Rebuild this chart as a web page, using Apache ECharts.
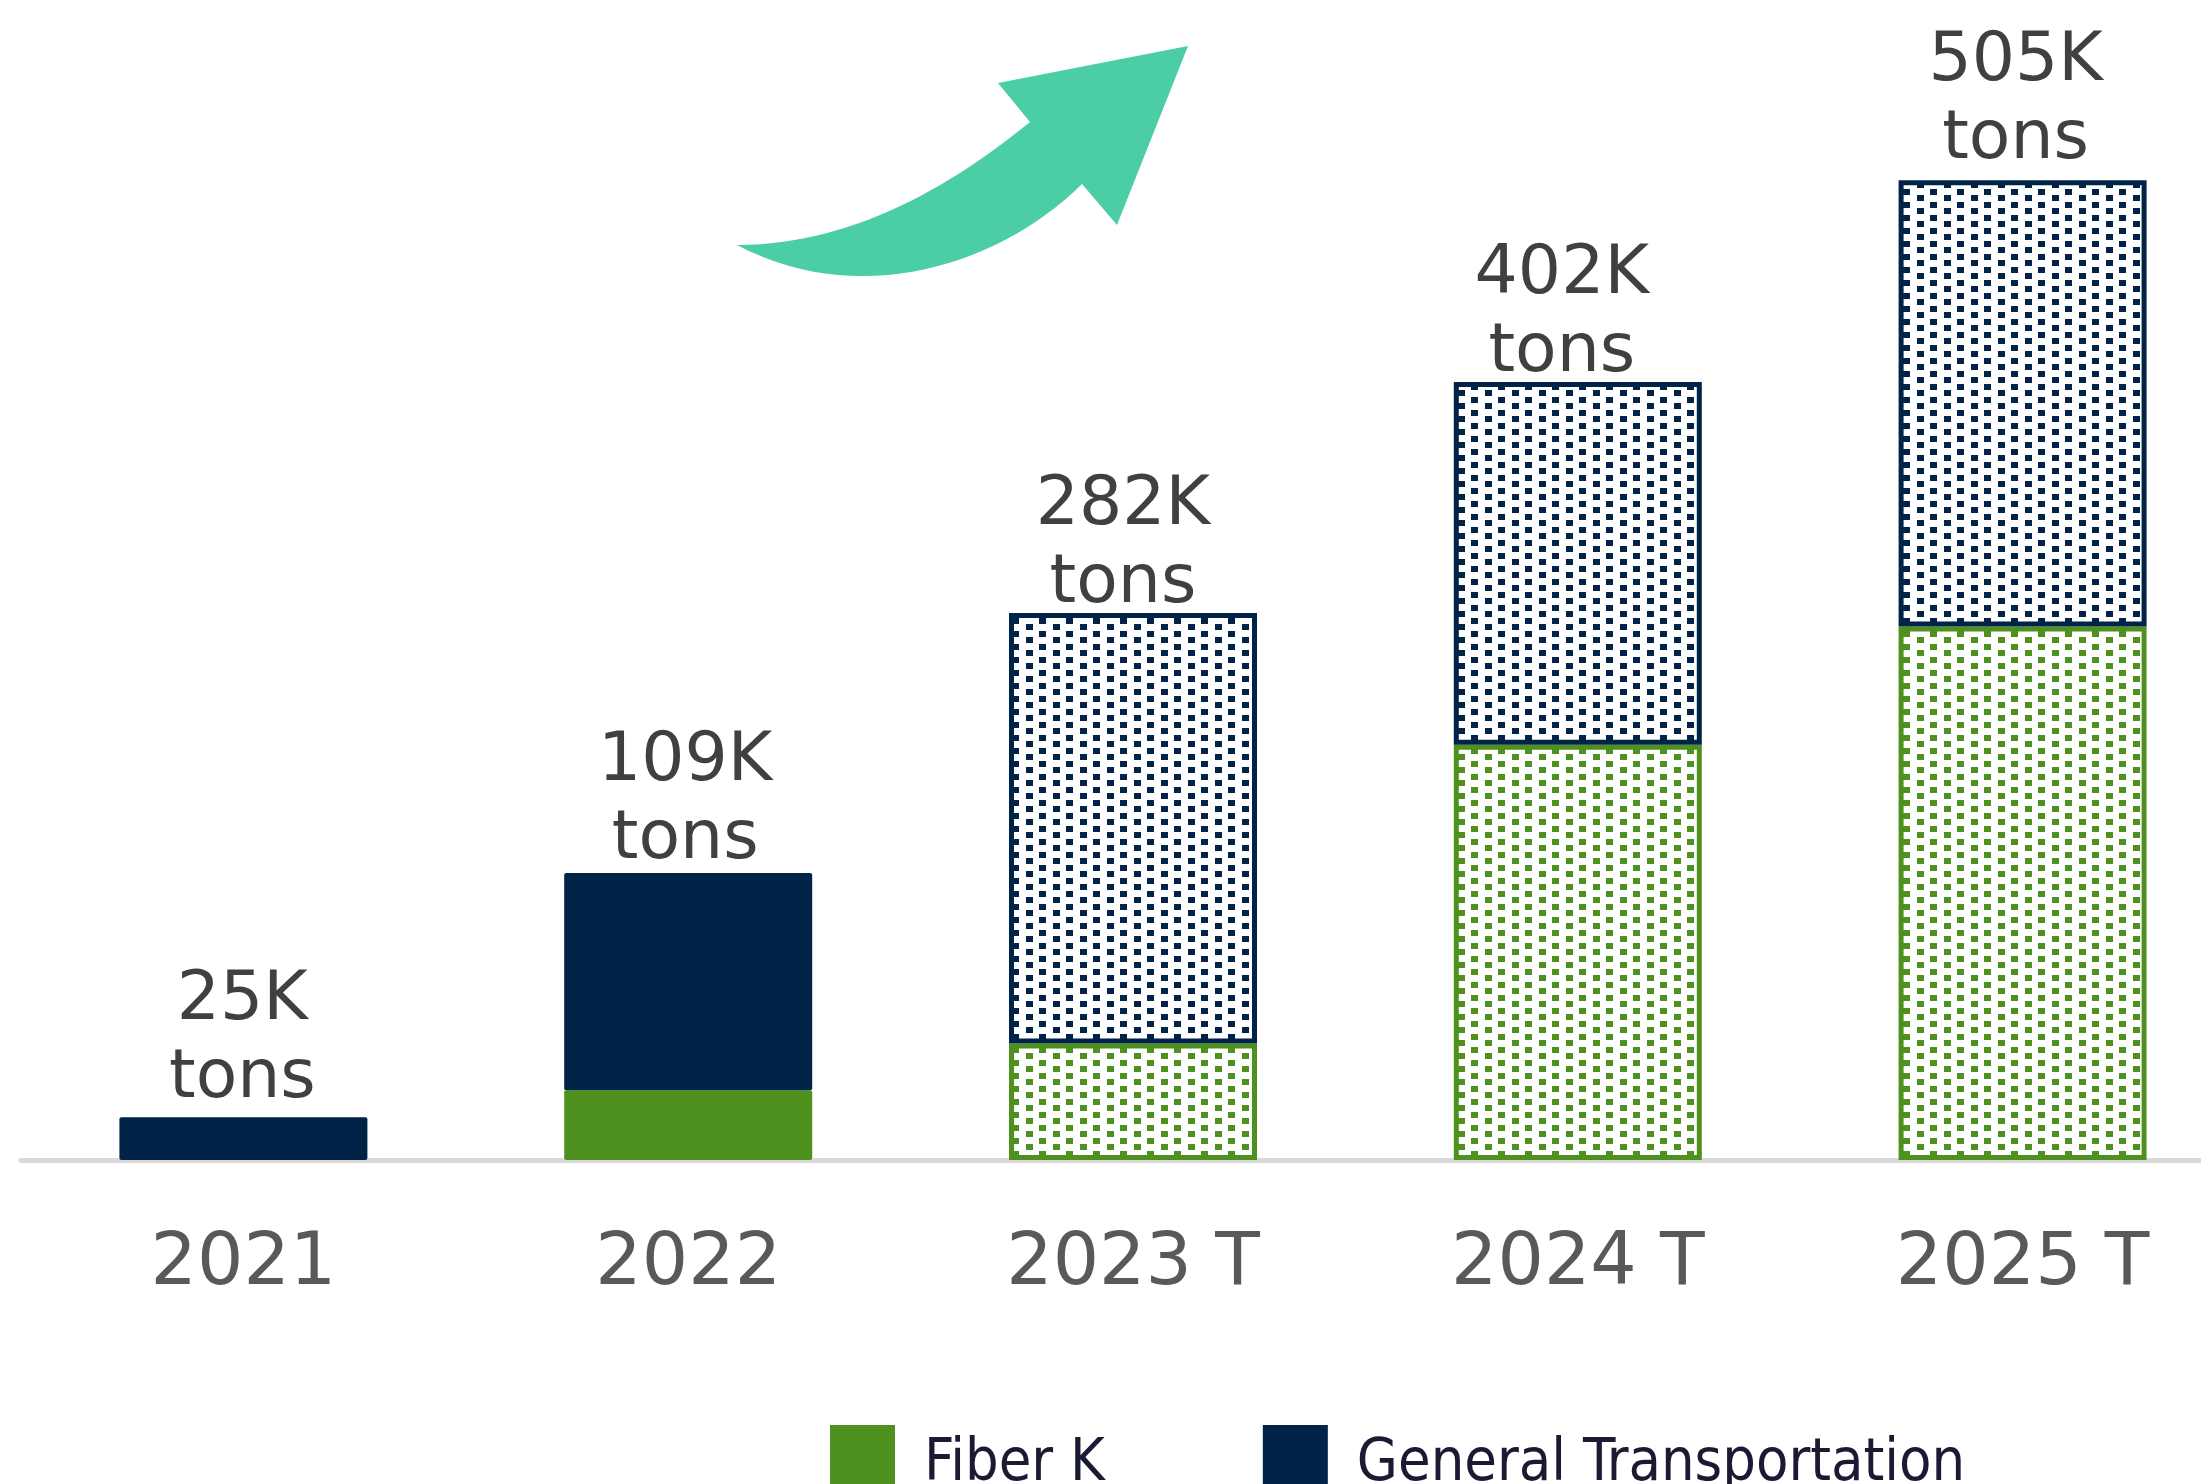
<!DOCTYPE html>
<html>
<head>
<meta charset="utf-8">
<script src="https://cdn.jsdelivr.net/npm/echarts@6/dist/echarts.min.js"></script>
<style>
html,body{margin:0;padding:0;background:#fff;}
#chart{width:2201px;height:1484px;}
</style>
</head>
<body>
<div id="chart"></div>
<script>
// ---- data ----
const categories = ['2021', '2022', '2023 T', '2024 T', '2025 T'];
const fiberK = [0, 36, 60, 214, 275];
const generalTransportation = [22, 112, 222, 187, 230];
const totalLabels = ['25K', '109K', '282K', '402K', '505K'];
const unitLabel = 'tons';

// ---- style ----
const NAVY = '#002347';
const GREEN = '#4e911e';
const ARROW = '#4bcea5';
// label nudges (px) reproducing the hand placement in the original
const labelNudgeX = [-1, -3, -10, -16, -7];
const labelNudgeY = [2, 7, 11, 11, 0];

function makePattern(color) {
  const c = document.createElement('canvas');
  c.width = 27; c.height = 13;
  const ctx = c.getContext('2d');
  ctx.fillStyle = '#ffffff';
  ctx.fillRect(0, 0, 27, 13);
  ctx.fillStyle = color;
  ctx.fillRect(0, 0, 7, 6);
  ctx.fillRect(13, 7, 7, 6);
  return { image: c, repeat: 'repeat' };
}
const navyPattern = makePattern(NAVY);
const greenPattern = makePattern(GREEN);
const isForecast = categories.map(c => / T$/.test(c));

function buildData(values, color, pattern, withLabelNudge) {
  return values.map((v, i) => {
    const item = isForecast[i]
      ? { value: v, itemStyle: { color: pattern, borderColor: color, borderWidth: 5, borderRadius: 0 } }
      : { value: v, itemStyle: { color: color, borderRadius: 2 } };
    if (withLabelNudge) item.label = { offset: [labelNudgeX[i], labelNudgeY[i]] };
    return item;
  });
}

// decorative arrow outline (quadratic + cubic curves sampled to a polygon)
function quad(p0, c, p1, n) {
  const pts = [];
  for (let i = 0; i <= n; i++) {
    const t = i / n, u = 1 - t;
    pts.push([u*u*p0[0] + 2*u*t*c[0] + t*t*p1[0], u*u*p0[1] + 2*u*t*c[1] + t*t*p1[1]]);
  }
  return pts;
}
function cubic(p0, c1, c2, p1, n) {
  const pts = [];
  for (let i = 0; i <= n; i++) {
    const t = i / n, u = 1 - t;
    pts.push([
      u*u*u*p0[0] + 3*u*u*t*c1[0] + 3*u*t*t*c2[0] + t*t*t*p1[0],
      u*u*u*p0[1] + 3*u*u*t*c1[1] + 3*u*t*t*c2[1] + t*t*t*p1[1]
    ]);
  }
  return pts;
}
const arrowPts = []
  .concat(quad([737, 245], [880, 245], [1030, 122], 30))
  .concat([[998, 83], [1188, 46], [1117, 225]])
  .concat(cubic([1082, 184], [1000, 265], [860, 310], [737, 245], 30));

const chart = echarts.init(document.getElementById('chart'), null, { renderer: 'canvas' });
chart.setOption({
  animation: false,
  backgroundColor: '#ffffff',
  grid: { left: 21, right: -44, top: 93, bottom: 324, containLabel: false, outerBoundsMode: 'none' },
  legend: {
    data: ['Fiber K', 'General Transportation'],
    left: 825, top: 1420,
    icon: 'rect',
    itemWidth: 65, itemHeight: 80,
    itemGap: 158,
    textStyle: {
      fontFamily: '"DejaVu Sans Condensed", "DejaVu Sans", sans-serif',
      fontSize: 59, color: '#1a1a33',
      padding: [0, 0, 0, 24]
    }
  },
  xAxis: {
    type: 'category',
    data: categories,
    offset: 2,
    axisLine: { show: true, lineStyle: { color: '#d9d9d9', width: 5 } },
    axisTick: { show: false },
    axisLabel: {
      margin: 67,
      fontFamily: '"DejaVu Sans", Verdana, sans-serif',
      fontSize: 73, color: '#595959'
    }
  },
  yAxis: {
    type: 'value', min: 0, max: 550,
    show: false, splitLine: { show: false }
  },
  series: [
    {
      name: 'Fiber K', type: 'bar', stack: 'total', barWidth: 248,
      itemStyle: { color: GREEN },
      data: buildData(fiberK, GREEN, greenPattern, false)
    },
    {
      name: 'General Transportation', type: 'bar', stack: 'total', barWidth: 248,
      itemStyle: { color: NAVY },
      data: buildData(generalTransportation, NAVY, navyPattern, true),
      label: {
        show: true, position: 'top', distance: 1,
        formatter: p => totalLabels[p.dataIndex] + '\n' + unitLabel,
        fontFamily: '"DejaVu Sans", Verdana, sans-serif',
        fontSize: 68, lineHeight: 78, color: '#404040'
      }
    }
  ],
  graphic: [
    {
      type: 'polygon',
      shape: { points: arrowPts },
      style: { fill: ARROW }
    }
  ]
});
</script>
</body>
</html>
